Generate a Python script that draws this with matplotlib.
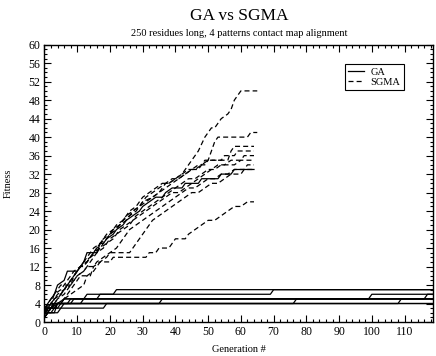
import matplotlib

matplotlib.use("Agg")
import matplotlib.pyplot as plt
from matplotlib.ticker import MultipleLocator

plt.rcParams["font.family"] = ["Liberation Serif", "DejaVu Serif"]

# GA runs (solid): corner points of each best-fitness staircase
GA_X = [
    [0, 1, 2, 4, 5, 11, 12, 13, 21, 22, 120],
    [0, 1, 2, 3, 5, 6, 16, 17, 69, 70, 120],
    [0, 1, 3, 4, 8, 9, 99, 100, 120],
    [0, 2, 3, 5, 6, 116, 117, 120],
    [0, 1, 2, 3, 35, 36, 120],
    [0, 1, 3, 4, 76, 77, 120],
    [0, 1, 4, 5, 18, 19, 108, 109, 120],
    [0, 2, 3, 5, 6, 120],
    [0, 1, 3, 4, 7, 8, 120],
    [0, 1, 2, 120],
]
GA_Y = [
    [1, 2, 3, 3, 4, 4, 5, 6, 6, 7, 7],
    [2, 3, 3, 4, 4, 5, 5, 6, 6, 7, 7],
    [2, 3, 3, 4, 4, 5, 5, 6, 6],
    [3, 3, 4, 4, 5, 5, 6, 6],
    [2, 3, 3, 4, 4, 5, 5],
    [1, 2, 2, 4, 4, 5, 5],
    [1, 2, 2, 3, 3, 4, 4, 5, 5],
    [2, 2, 3, 3, 4, 4],
    [2, 3, 3, 4, 4, 5, 5],
    [3, 3, 4, 4],
]

# one solid run that stops with the SGMA runs
GA_SHORT_X = [0, 1, 2, 3, 4, 6, 7, 10, 11, 12, 13, 16, 17, 18, 19, 21, 22, 24, 25, 27,
              29, 30, 32, 34, 36, 37, 39, 42, 43, 47, 48, 53, 54, 57, 58, 64]
GA_SHORT_Y = [2, 4, 5, 6, 8, 9, 11, 11, 12, 13, 15, 15, 17, 17, 18, 19, 20, 21, 22, 23,
              24, 25, 26, 27, 27, 28, 29, 29, 30, 30, 31, 31, 32, 32, 33, 33]

# SGMA runs (dashed)
SG_X = [
    [0, 2, 4, 5, 8, 9, 11, 12, 14, 16, 18, 20, 22, 24, 26, 28, 30, 33, 35, 37, 38, 40,
     42, 44, 46, 47, 49, 51, 52, 54, 56, 57, 58, 59, 60, 65],
    [0, 2, 3, 5, 7, 9, 11, 13, 15, 17, 19, 21, 23, 25, 27, 29, 31, 33, 35, 37, 39, 41,
     43, 45, 47, 49, 50, 51, 52, 53, 62, 63, 65],
    [0, 2, 3, 5, 7, 9, 11, 13, 15, 17, 19, 21, 23, 25, 27, 29, 31, 33, 35, 37, 39, 41,
     43, 45, 47, 48, 49, 56, 57, 58, 64],
    [0, 2, 4, 6, 8, 10, 12, 14, 16, 18, 20, 22, 24, 26, 28, 30, 32, 34, 36, 38, 40, 42,
     44, 46, 48, 50, 54, 55, 58, 59, 64],
    [0, 1, 3, 5, 7, 9, 11, 13, 15, 17, 19, 21, 23, 25, 27, 29, 31, 33, 35, 37, 39, 41,
     43, 45, 47, 49, 51, 53, 55, 57, 60, 61, 64],
    [0, 2, 4, 6, 8, 10, 12, 14, 16, 18, 20, 22, 24, 26, 28, 30, 32, 34, 36, 38, 40, 42,
     44, 46, 48, 50, 52, 54, 58, 60, 64],
    [0, 2, 4, 6, 8, 10, 12, 13, 15, 16, 18, 20, 22, 24, 26, 28, 30, 32, 34, 36, 38, 40,
     42, 44, 46, 48, 50, 52, 54, 56, 58, 61, 62, 64],
    [0, 2, 4, 6, 8, 10, 11, 14, 15, 17, 19, 20, 26, 27, 29, 31, 33, 35, 37, 39, 41, 43,
     45, 47, 49, 51, 53, 55, 57, 60, 61, 64],
    [0, 2, 4, 6, 8, 10, 12, 13, 15, 17, 20, 21, 31, 32, 34, 35, 38, 39, 40, 43, 44, 46,
     48, 50, 52, 54, 56, 58, 60, 62, 64],
]
SG_Y = [
    [3, 5, 7, 8, 8, 10, 12, 12, 14, 15, 17, 19, 20, 22, 23, 24, 26, 27, 28, 30, 30, 31,
     32, 34, 36, 37, 40, 42, 42, 44, 45, 46, 48, 49, 50, 50],
    [2, 4, 6, 7, 9, 11, 12, 14, 16, 17, 19, 20, 21, 22, 24, 25, 26, 27, 28, 29, 30, 31,
     32, 33, 34, 34, 35, 37, 39, 40, 40, 41, 41],
    [2, 3, 5, 6, 8, 10, 12, 13, 15, 17, 18, 20, 21, 23, 24, 25, 27, 28, 29, 30, 31, 31,
     32, 33, 33, 34, 35, 35, 37, 38, 38],
    [1, 3, 5, 7, 9, 11, 13, 14, 16, 18, 19, 21, 22, 24, 25, 27, 28, 29, 30, 30, 31, 32,
     33, 33, 34, 35, 35, 36, 36, 37, 37],
    [2, 3, 5, 6, 8, 10, 12, 13, 15, 16, 17, 18, 20, 21, 22, 23, 24, 25, 26, 27, 28, 28,
     29, 30, 31, 32, 33, 34, 34, 35, 35, 36, 36],
    [3, 4, 6, 7, 8, 10, 11, 13, 15, 16, 18, 19, 20, 21, 23, 24, 25, 26, 27, 28, 29, 30,
     31, 31, 32, 33, 33, 34, 34, 35, 35],
    [2, 3, 5, 6, 8, 10, 11, 12, 12, 13, 14, 15, 16, 18, 20, 21, 22, 23, 24, 25, 26, 27,
     28, 29, 29, 30, 31, 31, 32, 32, 33, 33, 34, 34],
    [1, 3, 4, 5, 7, 9, 10, 10, 12, 13, 14, 15, 15, 16, 18, 20, 22, 23, 24, 25, 26, 27,
     28, 28, 29, 30, 30, 31, 32, 32, 33, 33],
    [2, 3, 4, 5, 6, 7, 8, 10, 11, 13, 13, 14, 14, 15, 15, 16, 16, 17, 18, 18, 19, 20,
     21, 22, 22, 23, 24, 25, 25, 26, 26],
]

fig = plt.figure(figsize=(4.36, 3.56), dpi=100)
ax = fig.add_axes([0.102, 0.0955, 0.892, 0.779])

line_kw = dict(color="black", linewidth=0.9)
for i, (xs, ys) in enumerate(zip(GA_X, GA_Y)):
    ax.plot(xs, ys, linestyle="-", label="GA" if i == 0 else None, **line_kw)
ax.plot(GA_SHORT_X, GA_SHORT_Y, linestyle="-", **line_kw)
for i, (xs, ys) in enumerate(zip(SG_X, SG_Y)):
    ax.plot(xs, ys, linestyle=(0, (4, 2.5)), label="SGMA" if i == 0 else None, **line_kw)

ax.set_xlim(0, 118.8)
ax.set_ylim(0, 60)
ax.xaxis.set_major_locator(MultipleLocator(10))
ax.xaxis.set_minor_locator(MultipleLocator(2))
ax.yaxis.set_major_locator(MultipleLocator(4))
ax.yaxis.set_minor_locator(MultipleLocator(1))
ax.tick_params(which="both", direction="in", top=True, right=True,
               labelsize=8.5, pad=3, width=0.8)
ax.tick_params(which="major", length=5)
ax.tick_params(which="minor", length=2.5)
for sp in ax.spines.values():
    sp.set_linewidth(1.0)

ax.set_ylabel("Fitness", fontsize=7.5, labelpad=11)
ax.set_xlabel("Generation #", fontsize=7.5, labelpad=5)
fig.text(0.548, 0.955, "GA vs SGMA", ha="center", va="center", fontsize=12.5)
fig.text(0.548, 0.905, "250 residues long, 4 patterns contact map alignment",
         ha="center", va="center", fontsize=7.5)

leg = ax.legend(loc="upper left", bbox_to_anchor=(0.772, 0.93), borderaxespad=0,
                fontsize=7.5, handlelength=1.5, handletextpad=0.6, labelspacing=0.05,
                borderpad=0.35, fancybox=False, framealpha=1, edgecolor="black")
leg.get_frame().set_linewidth(0.8)

fig.savefig("out.png", dpi=100)
